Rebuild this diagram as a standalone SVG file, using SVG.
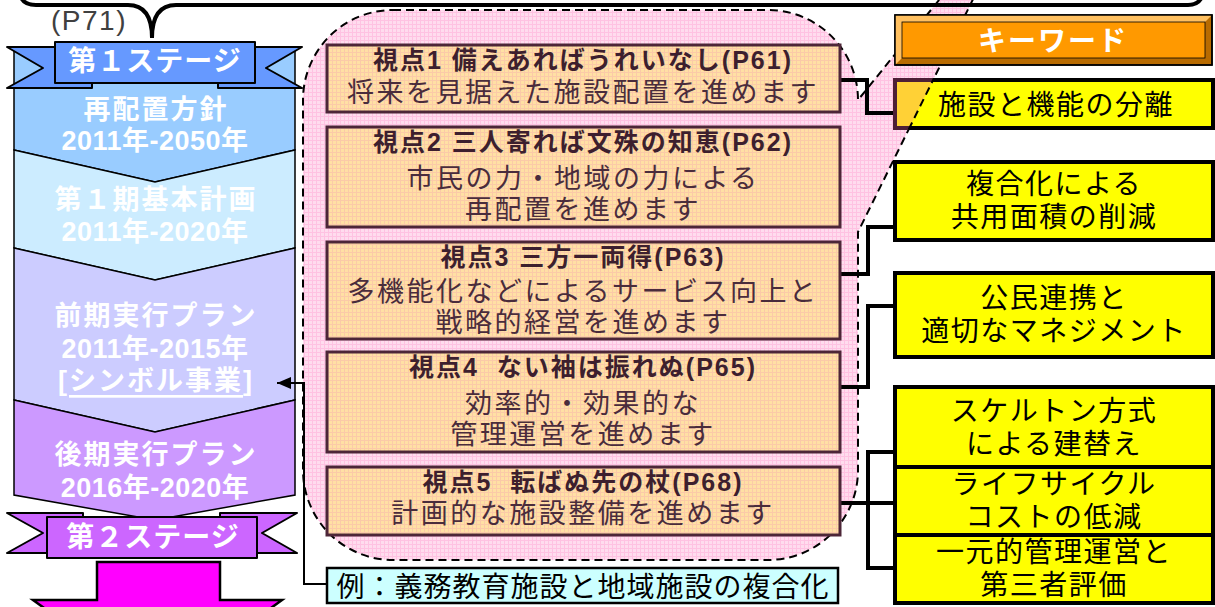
<svg xmlns="http://www.w3.org/2000/svg" width="1215" height="607" viewBox="0 0 1215 607">
<defs>
  <pattern id="pinkGrid" width="4" height="4" patternUnits="userSpaceOnUse">
    <rect width="4" height="4" fill="#ffdcee"/>
    <path d="M0 0.5H4M0.5 0V4" stroke="#ffc2e2" stroke-width="1"/>
  </pattern>
  <pattern id="beigeGrid" width="4" height="4" patternUnits="userSpaceOnUse">
    <rect width="4" height="4" fill="#ffe0a4"/>
    <path d="M0 0.5H4M0.5 0V4" stroke="#fbcaa8" stroke-width="1"/>
  </pattern>
  <marker id="arrowHead" markerUnits="userSpaceOnUse" markerWidth="14" markerHeight="12" viewBox="0 0 14 12" refX="14" refY="6" orient="auto">
    <path d="M0,0 L14,6 L0,12 Z" fill="#000"/>
  </marker>
  <clipPath id="kb1clip"><rect x="893" y="78" width="322" height="52"/></clipPath>
  <style>
    text { font-family: "Liberation Sans", "Noto Sans CJK JP", sans-serif; dominant-baseline: central; text-anchor: middle; }
    .col { fill: #ffffff; font-size: 27px; font-weight: bold; letter-spacing: 2px; }
    .num { letter-spacing: 0.5px; }
    .colsec { stroke: #000; stroke-width: 1.5; }
    .rib { stroke: #000; stroke-width: 2; stroke-linejoin: round; }
    .ribt { fill: #ffffff; font-size: 28px; font-weight: bold; letter-spacing: 1px; }
    .vp rect { fill: url(#beigeGrid); stroke: #4d2638; stroke-width: 3; }
    .vt { fill: #3d1f2e; font-size: 25px; font-weight: bold; letter-spacing: 2px; white-space: pre; }
    .vs { fill: #4a2c3c; font-size: 27px; letter-spacing: 2.5px; }
    .kwfill { fill: #ffff00; }
    .kwline { fill: none; stroke: #000; stroke-width: 4; }
    .kt { fill: #000; font-size: 28px; letter-spacing: 1.5px; }
    .conn { fill: none; stroke: #000; stroke-width: 4; }
    .dash { stroke: #000; stroke-width: 2; stroke-dasharray: 8 5; }
  </style>
</defs>

<!-- pink callout -->
<g id="callout">
  <path class="dash" fill="url(#pinkGrid)" d="M393,10 H768 A90,90 0 0 1 858,100 L1025,-106 L858,232 V470 A90,90 0 0 1 768,560 H393 A90,90 0 0 1 303,470 V100 A90,90 0 0 1 393,10 Z"/>
</g>

<!-- left column -->
<g id="column">
  <polygon class="colsec" fill="#99ccff" points="14,48 295,48 295,150 155,182 14,150"/>
  <polygon class="colsec" fill="#ccecff" points="14,150 155,182 295,150 295,248 155,280 14,248"/>
  <polygon class="colsec" fill="#ccccff" points="14,248 155,280 295,248 295,400 155,432 14,400"/>
  <polygon class="colsec" fill="#cc99ff" points="14,400 155,432 295,400 295,495 155,520 14,495"/>
</g>
<g id="sec-saihaichi">
  <text class="col" x="156" y="110">再配置方針</text>
  <text class="col num" x="155" y="141">2011年-2050年</text>
</g>
<g id="sec-kihon">
  <text class="col" x="156" y="200">第１期基本計画</text>
  <text class="col num" x="155" y="232">2011年-2020年</text>
</g>
<g id="sec-zenki">
  <text class="col" x="156" y="316">前期実行プラン</text>
  <text class="col num" x="155" y="349">2011年-2015年</text>
  <text class="col" x="156" y="381">[<tspan text-decoration="underline">シンボル事業</tspan>]</text>
</g>
<g id="sec-kouki">
  <text class="col" x="156" y="455">後期実行プラン</text>
  <text class="col num" x="155" y="488">2016年-2020年</text>
</g>

<!-- magenta arrow -->
<g id="next-arrow">
  <polygon fill="#ff00ff" stroke="#000" stroke-width="2.5" points="97,562 220,562 220,600 282,600 158,690 33,600 97,600"/>
</g>

<!-- ribbons -->
<g id="stage1">
  <polygon class="rib" fill="#6699ff" points="7,47 92,47 92,88 7,88 43,68"/>
  <polygon class="rib" fill="#6699ff" points="218,47 302,47 266,68 302,88 218,88"/>
  <rect class="rib" fill="#6699ff" x="55" y="42" width="200" height="41"/>
  <text class="ribt" x="155" y="61">第１ステージ</text>
</g>
<g id="stage2">
  <polygon class="rib" fill="#cc66ff" points="7,513 83,513 83,553 7,553 43,533"/>
  <polygon class="rib" fill="#cc66ff" points="220,513 297,513 262,533 297,553 220,553"/>
  <rect class="rib" fill="#cc66ff" x="47" y="517" width="210" height="41"/>
  <text class="ribt" x="153" y="537">第２ステージ</text>
</g>

<!-- brace -->
<g id="brace">
  <path d="M20,-6 Q22,5 36,5 L128,5 Q152,5 152,38 Q152,5 176,5 L1188,5 Q1200,5 1203,-6" fill="none" stroke="#000" stroke-width="4"/>
  <text x="89" y="20" style="font-size:28px;fill:#404040;letter-spacing:1.5px">(P71)</text>
</g>

<!-- connectors -->
<g id="connectors">
  <path class="conn" d="M840,80 H867 V113 H895"/>
  <path class="conn" d="M840,274 H868 V227 H895"/>
  <path class="conn" d="M840,387 H868 V306 H895"/>
  <path class="conn" d="M840,503 H895 M895,452 H868 V568 H895"/>
  <path d="M327,584 H304 V383 H277" fill="none" stroke="#000" stroke-width="2" marker-end="url(#arrowHead)"/>
</g>

<!-- viewpoint boxes -->
<g id="vp1" class="vp">
  <rect x="327" y="45" width="513" height="67"/>
  <text class="vt" x="583" y="60">視点1 備えあればうれいなし(P61)</text>
  <text class="vs" x="583" y="93">将来を見据えた施設配置を進めます</text>
</g>
<g id="vp2" class="vp">
  <rect x="327" y="127" width="513" height="100"/>
  <text class="vt" x="583" y="142">視点2 三人寄れば文殊の知恵(P62)</text>
  <text class="vs" x="583" y="179">市民の力・地域の力による</text>
  <text class="vs" x="583" y="210">再配置を進めます</text>
</g>
<g id="vp3" class="vp">
  <rect x="327" y="242" width="513" height="97"/>
  <text class="vt" x="583" y="257">視点3 三方一両得(P63)</text>
  <text class="vs" x="583" y="292">多機能化などによるサービス向上と</text>
  <text class="vs" x="583" y="323">戦略的経営を進めます</text>
</g>
<g id="vp4" class="vp">
  <rect x="327" y="352" width="513" height="100"/>
  <text class="vt" x="583" y="367">視点4  ない袖は振れぬ(P65)</text>
  <text class="vs" x="583" y="404">効率的・効果的な</text>
  <text class="vs" x="583" y="435">管理運営を進めます</text>
</g>
<g id="vp5" class="vp">
  <rect x="327" y="467" width="513" height="68"/>
  <text class="vt" x="583" y="482">視点5  転ばぬ先の杖(P68)</text>
  <text class="vs" x="583" y="514">計画的な施設整備を進めます</text>
</g>

<!-- example box -->
<g id="example">
  <rect x="327" y="568" width="511" height="35" fill="#ccffff" stroke="#000" stroke-width="2.5"/>
  <text x="583" y="587" style="font-size:28px;fill:#000;letter-spacing:1px">例：義務教育施設と地域施設の複合化</text>
</g>

<!-- keyword boxes -->
<g id="kw1">
  <rect class="kwfill" x="895" y="80" width="318" height="48"/>
  <text class="kt" x="1056" y="105">施設と機能の分離</text>
  <rect class="kwline" x="895" y="80" width="318" height="48"/>
  <g clip-path="url(#kb1clip)">
    <path class="dash" d="M858,100 L1025,-106 L858,232 Z" fill="#ff66b3" fill-opacity="0.3"/>
  </g>
</g>
<g id="kw2">
  <rect class="kwfill" x="895" y="162" width="318" height="78"/>
  <text class="kt" x="1054" y="184">複合化による</text>
  <text class="kt" x="1054" y="217">共用面積の削減</text>
  <rect class="kwline" x="895" y="162" width="318" height="78"/>
</g>
<g id="kw3">
  <rect class="kwfill" x="895" y="273" width="318" height="84"/>
  <text class="kt" x="1054" y="298">公民連携と</text>
  <text class="kt" x="1054" y="331">適切なマネジメント</text>
  <rect class="kwline" x="895" y="273" width="318" height="84"/>
</g>
<g id="kw4">
  <rect class="kwfill" x="895" y="387" width="318" height="80"/>
  <text class="kt" x="1054" y="411">スケルトン方式</text>
  <text class="kt" x="1054" y="444">による建替え</text>
  <rect class="kwline" x="895" y="387" width="318" height="80"/>
</g>
<g id="kw5">
  <rect class="kwfill" x="895" y="467" width="318" height="68"/>
  <text class="kt" x="1054" y="484">ライフサイクル</text>
  <text class="kt" x="1054" y="517">コストの低減</text>
  <rect class="kwline" x="895" y="467" width="318" height="68"/>
</g>
<g id="kw6">
  <rect class="kwfill" x="895" y="535" width="318" height="68"/>
  <text class="kt" x="1054" y="552">一元的管理運営と</text>
  <text class="kt" x="1054" y="585">第三者評価</text>
  <rect class="kwline" x="895" y="535" width="318" height="68"/>
</g>

<!-- keyword header -->
<g id="keyword-header">
  <rect x="895" y="15" width="317" height="50" fill="#b86b00" stroke="#000" stroke-width="1.5"/>
  <polygon points="895,15 1212,15 1205,22 902,22 902,58 895,65" fill="#ffc060"/>
  <rect x="902" y="22" width="303" height="36" fill="#ff9900" stroke="#000" stroke-width="0.8"/>
  <rect x="895" y="15" width="317" height="50" fill="none" stroke="#000" stroke-width="1.5"/>
  <text x="1053" y="41" style="font-size:28px;font-weight:bold;fill:#ffffff;letter-spacing:2px">キーワード</text>
</g>
</svg>
